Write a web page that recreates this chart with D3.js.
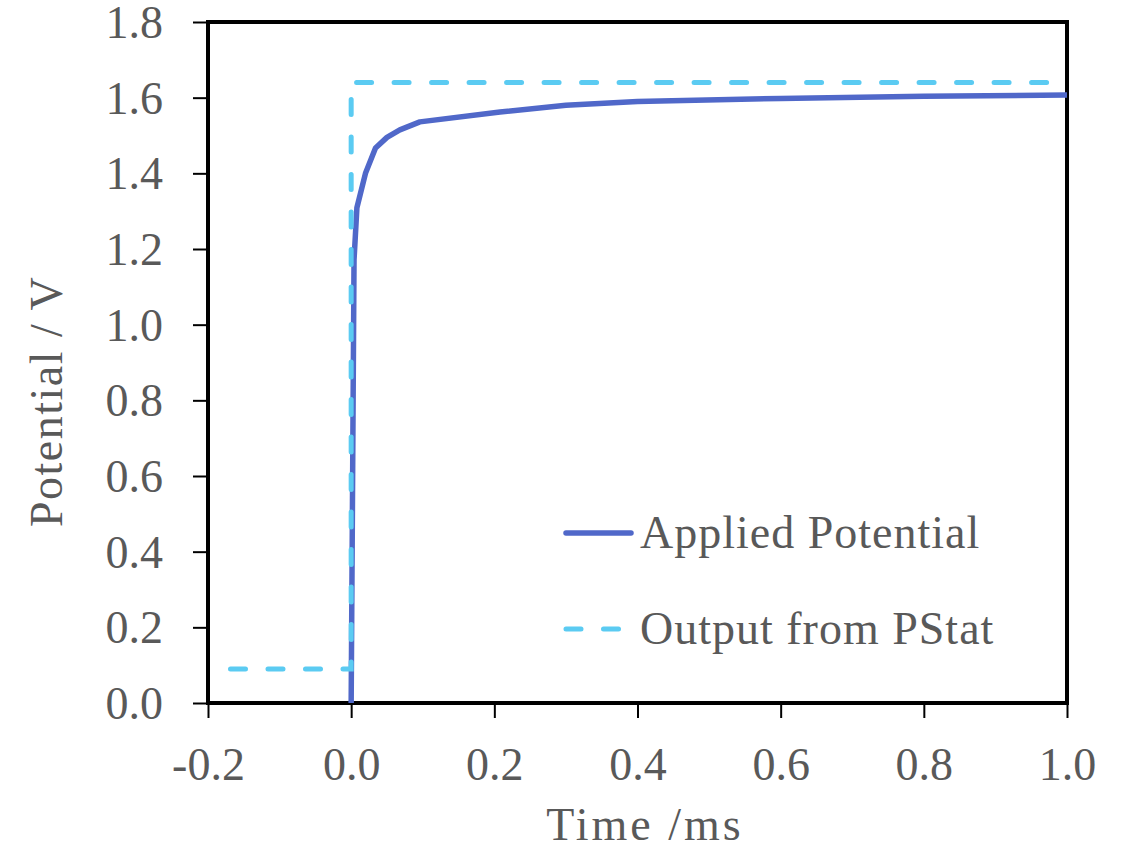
<!DOCTYPE html>
<html>
<head>
<meta charset="utf-8">
<script src="https://cdn.jsdelivr.net/npm/d3@7"></script>
<style>
  body { margin: 0; background: #fff; }
  text { font-family: "Liberation Serif", serif; fill: #595959; }
</style>
</head>
<body>
<div id="chart"></div>
<script>
// applied potential (solid)
let appliedTime = [0, 0.004, 0.008, 0.02, 0.034, 0.05, 0.068, 0.096, 0.208, 0.3, 0.4, 0.6, 0.8, 1.0];
let appliedV    = [0, 1.171, 1.309, 1.40, 1.467, 1.495, 1.515, 1.536, 1.562, 1.580, 1.590, 1.598, 1.604, 1.607];

// potentiostat output (dashed)
let pstatTime = [-0.2, 0, 0, 1.0];
let pstatV    = [0.09, 0.09, 1.64, 1.64];

let xTicks = [-0.2, 0, 0.2, 0.4, 0.6, 0.8, 1.0];
let yTicks = [0, 0.2, 0.4, 0.6, 0.8, 1.0, 1.2, 1.4, 1.6, 1.8];

let legendNames = ["Applied Potential", "Output from PStat"];

let width = 1124, height = 853;
let plot = {left: 208, right: 1067, top: 22, bottom: 703};

let svg = d3.select("#chart").append("svg")
    .attr("width", width)
    .attr("height", height);

let x = d3.scaleLinear().domain([-0.2, 1.0]).range([plot.left, plot.right]);
let y = d3.scaleLinear().domain([0, 1.8]).range([plot.bottom, plot.top]);

// excel style labels use a plain hyphen for negatives
let fmt = d => d3.format(".1f")(d).replace("\u2212", "-");

// axes
let yAxis = svg.append("g")
    .attr("transform", `translate(${plot.left},0)`)
    .call(d3.axisLeft(y).tickValues(yTicks).tickSize(15).tickFormat(fmt));
yAxis.select(".domain").remove();
yAxis.selectAll("line").attr("stroke", "#000").attr("stroke-width", 2);
yAxis.selectAll("text")
    .attr("font-size", 46)
    .attr("font-family", "Liberation Serif, serif")
    .attr("fill", "#595959")
    .attr("dy", "0.34em")
    .attr("x", -45);

let xAxis = svg.append("g")
    .attr("transform", `translate(0,${plot.bottom})`)
    .call(d3.axisBottom(x).tickValues(xTicks).tickSize(15).tickFormat(fmt));
xAxis.select(".domain").remove();
xAxis.selectAll("line").attr("stroke", "#000").attr("stroke-width", 2);
xAxis.selectAll("text")
    .attr("font-size", 46)
    .attr("font-family", "Liberation Serif, serif")
    .attr("fill", "#595959")
    .attr("y", 77)
    .attr("dy", 0);

// plot frame
svg.append("rect")
    .attr("x", plot.left)
    .attr("y", plot.top)
    .attr("width", plot.right - plot.left)
    .attr("height", plot.bottom - plot.top)
    .attr("fill", "none")
    .attr("stroke", "#000")
    .attr("stroke-width", 4);

// lines
let applied = appliedTime.map((t, i) => [t, appliedV[i]]);
let pstat = pstatTime.map((t, i) => [t, pstatV[i]]);

let line = d3.line().x(d => x(d[0])).y(d => y(d[1]));

svg.append("path")
    .datum(applied)
    .attr("d", line)
    .attr("fill", "none")
    .attr("stroke", "#5068C9")
    .attr("stroke-width", 5.5)
    .attr("stroke-linejoin", "round");

svg.append("path")
    .datum(pstat)
    .attr("d", line)
    .attr("fill", "none")
    .attr("stroke", "#5BCBF2")
    .attr("stroke-width", 5)
    .attr("stroke-linecap", "round")
    .attr("stroke-dasharray", "15 22.5")
    .attr("stroke-dashoffset", 15);

// legend
let legend = svg.append("g");
let legY = [533, 629];
legend.append("line")
    .attr("x1", 566).attr("x2", 631)
    .attr("y1", legY[0]).attr("y2", legY[0])
    .attr("stroke", "#5068C9")
    .attr("stroke-width", 5.5)
    .attr("stroke-linecap", "round");
legend.append("line")
    .attr("x1", 566).attr("x2", 631)
    .attr("y1", legY[1]).attr("y2", legY[1])
    .attr("stroke", "#5BCBF2")
    .attr("stroke-width", 5)
    .attr("stroke-linecap", "round")
    .attr("stroke-dasharray", "15 22.5");
legend.selectAll("text.leg")
    .data(legendNames)
    .enter().append("text")
    .attr("class", "leg")
    .attr("x", 640)
    .attr("y", (d, i) => legY[i] + 15)
    .attr("font-size", 46)
    .attr("letter-spacing", 1)
    .text(d => d);

// axis titles
svg.append("text")
    .attr("x", 645)
    .attr("y", 840)
    .attr("text-anchor", "middle")
    .attr("font-size", 46)
    .attr("letter-spacing", 3)
    .text("Time /ms");

svg.append("text")
    .attr("transform", `translate(62,${(273 + 530) / 2}) rotate(-90)`)
    .attr("text-anchor", "middle")
    .attr("font-size", 46)
    .attr("letter-spacing", 1.5)
    .text("Potential / V");
</script>
</body>
</html>
